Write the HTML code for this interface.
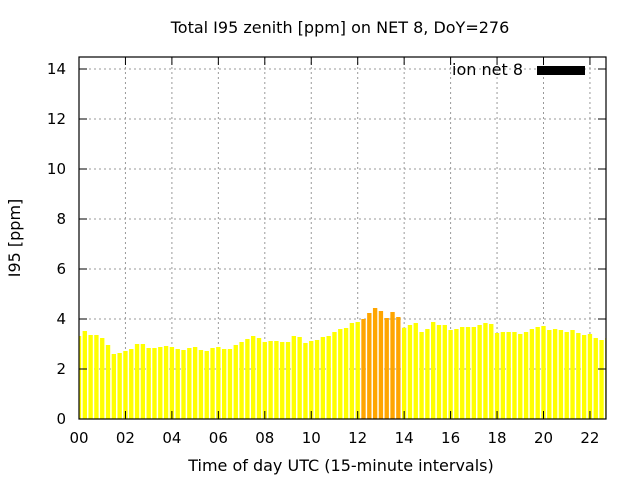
<!DOCTYPE html>
<html><head><meta charset="utf-8"><style>
body{margin:0;background:#fff;width:640px;height:480px;overflow:hidden}
svg{font-family:"DejaVu Sans","Liberation Sans",sans-serif}
</style></head><body>
<svg id="chart" width="640" height="480" viewBox="0 0 640 480" xmlns="http://www.w3.org/2000/svg">
<text x="340" y="33" font-size="16" text-anchor="middle">Total I95 zenith [ppm] on NET 8, DoY=276</text>
<g id="grid"></g>
<defs><clipPath id="pc"><rect x="79" y="50" width="527" height="369"/></clipPath></defs>
<g id="bars" clip-path="url(#pc)"></g>
<rect x="79" y="57" width="527" height="362" fill="none" stroke="#000" stroke-width="1.2"/>
<g id="ticks"></g>
<text transform="translate(20,238) rotate(-90)" font-size="16" text-anchor="middle">I95 [ppm]</text>
<text x="341" y="471" font-size="16" text-anchor="middle">Time of day UTC (15-minute intervals)</text>
<g>
<text x="523" y="75" font-size="16" text-anchor="end">ion net 8</text>
<rect x="537" y="66" width="48" height="9" fill="#000"/>
</g>
</svg>
<script>
const values=[3.32,3.52,3.36,3.36,3.24,2.96,2.6,2.64,2.72,2.8,3.0,3.0,2.84,2.84,2.88,2.92,2.88,2.8,2.76,2.84,2.88,2.76,2.72,2.84,2.88,2.8,2.8,2.96,3.08,3.2,3.32,
3.24,3.08,3.12,3.12,3.08,3.08,3.32,3.28,3.04,3.12,3.16,3.28,3.32,3.48,3.6,3.64,3.84,3.88,4.0,4.24,4.44,4.32,4.04,4.28,4.08,3.65,3.76,3.84,3.48,3.6,
3.88,3.76,3.76,3.56,3.6,3.68,3.68,3.68,3.76,3.84,3.8,3.44,3.48,3.48,3.48,3.4,3.48,3.6,3.68,3.72,3.56,3.6,3.56,3.48,3.56,3.44,3.36,3.4,3.24,3.16,3.24];
const highlightFrom=49, highlightTo=55;
const yTicks=[0,2,4,6,8,10,12,14];
const xTickHours=[0,2,4,6,8,10,12,14,16,18,20,22];
const NS="http://www.w3.org/2000/svg";
const X0=79,Y0=419,PXH=23.225,PXU=25.0;
const xs=h=>X0+h*PXH, ys=v=>Y0-v*PXU;
function mk(t,a,p){const e=document.createElementNS(NS,t);for(const k in a)e.setAttribute(k,a[k]);p.appendChild(e);return e;}
const grid=document.getElementById('grid'),ticks=document.getElementById('ticks'),bars=document.getElementById('bars');
yTicks.forEach(v=>{
 const y=ys(v);
 if(v>0){const g=mk('line',{x1:X0,x2:606,y1:y,y2:y,stroke:'#999','stroke-dasharray':'2,3'},grid);
 
 }
 mk('line',{x1:X0,x2:X0+8,y1:y,y2:y,stroke:'#000'},ticks);
 mk('line',{x1:606,x2:598,y1:y,y2:y,stroke:'#000'},ticks);
 const t=mk('text',{x:66,y:y+5,'font-size':15,'text-anchor':'end'},ticks);
 t.textContent=v;
 
 
});
xTickHours.forEach(h=>{
 const x=xs(h);
 if(h>0){const g=mk('line',{x1:x,x2:x,y1:57,y2:Y0,stroke:'#999','stroke-dasharray':'2,3'},grid);
 
 }
 mk('line',{x1:x,x2:x,y1:Y0,y2:Y0-8,stroke:'#000'},ticks);
 mk('line',{x1:x,x2:x,y1:57,y2:65,stroke:'#000'},ticks);
 const t=mk('text',{x:x,y:443,'font-size':15,'text-anchor':'middle'},ticks);
 t.textContent=String(h).padStart(2,'0');
 
 
});
const bw=PXH/4*0.75;
values.forEach((v,i)=>{
 const cx=xs(i*0.25);
 const r=mk('rect',{x:cx-bw/2,y:ys(v),width:bw,height:Y0-ys(v),fill:(i>=highlightFrom&&i<=highlightTo)?'#ffa500':'#ffff00'},bars);
 
 
});
</script>
</body></html>
